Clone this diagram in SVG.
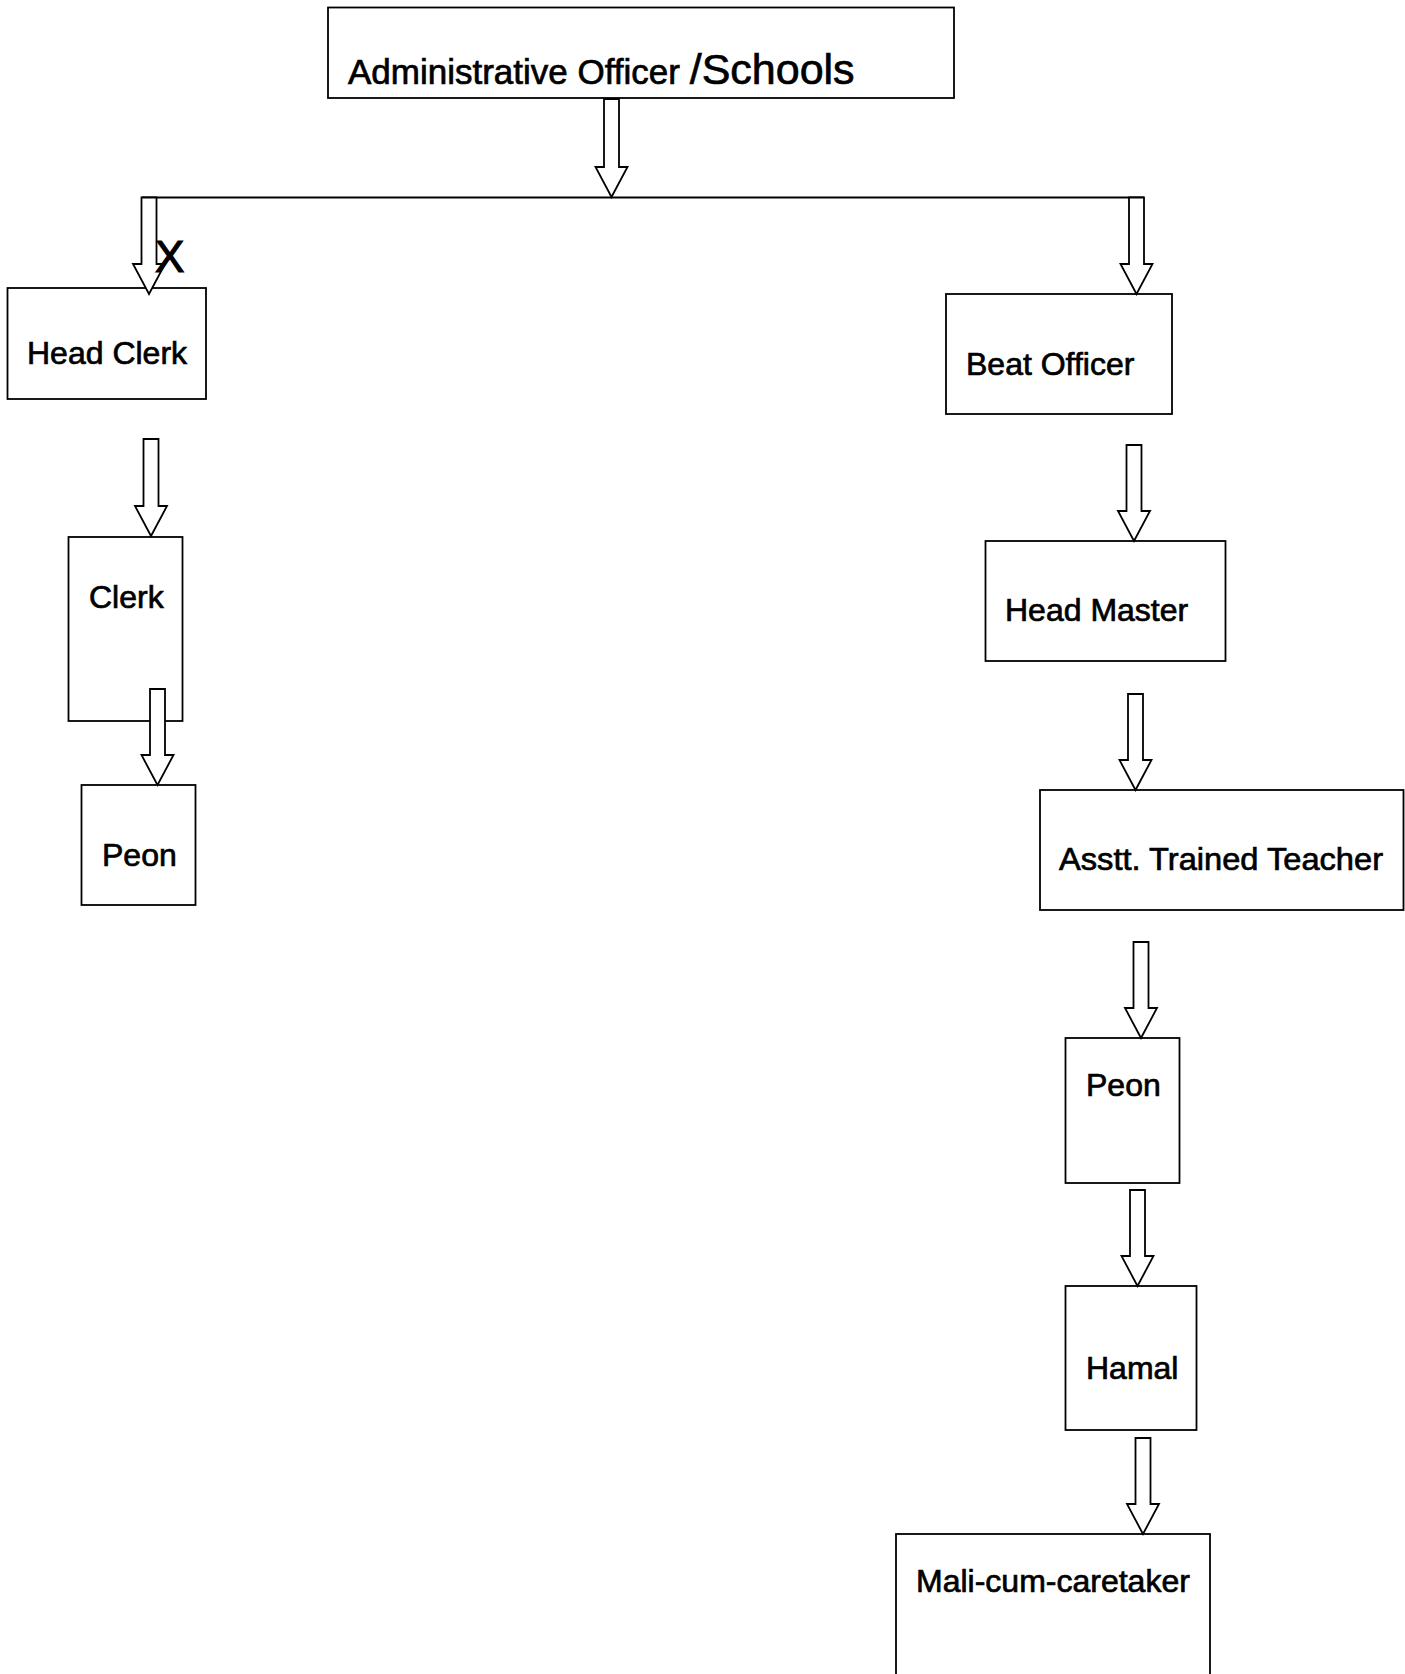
<svg xmlns="http://www.w3.org/2000/svg" width="1405" height="1674" viewBox="0 0 1405 1674">
<style>
.box{fill:#fff;stroke:#000;stroke-width:1.8}
.lbl{font-family:"Liberation Sans",Arial,sans-serif;font-size:32px;fill:#000;stroke:#000;stroke-width:0.7}
.arr{fill:#fff;stroke:#000;stroke-width:1.8;stroke-linejoin:miter}
.ln{stroke:#000;stroke-width:1.8;fill:none}
</style>
<rect width="1405" height="1674" fill="#fff"/>
<g id="nodes">
<g id="n-admin"><rect class="box" x="328" y="7.5" width="626" height="90.5"/><text class="lbl" x="348" y="84" style="font-size:35px">Administrative Officer <tspan style="font-size:43px">/Schools</tspan></text></g>
<g id="n-headclerk"><rect class="box" x="7.5" y="288" width="198.5" height="111"/><text class="lbl" x="27" y="364">Head Clerk</text></g>
<g id="n-clerk"><rect class="box" x="68.5" y="537" width="114" height="184"/><text class="lbl" x="89" y="608">Clerk</text></g>
<g id="n-peon-l"><rect class="box" x="81.5" y="785" width="114" height="120"/><text class="lbl" x="102" y="866">Peon</text></g>
<g id="n-beat"><rect class="box" x="946" y="294" width="226" height="120"/><text class="lbl" x="966" y="375">Beat Officer</text></g>
<g id="n-hm"><rect class="box" x="985.5" y="541" width="240" height="120"/><text class="lbl" x="1005" y="621">Head Master</text></g>
<g id="n-att"><rect class="box" x="1040" y="790" width="363.5" height="120"/><text class="lbl" x="1059" y="870" textLength="324" lengthAdjust="spacingAndGlyphs">Asstt. Trained Teacher</text></g>
<g id="n-peon-r"><rect class="box" x="1065.5" y="1038" width="114" height="145"/><text class="lbl" x="1086" y="1096">Peon</text></g>
<g id="n-hamal"><rect class="box" x="1065.5" y="1286" width="131" height="144"/><text class="lbl" x="1086" y="1379">Hamal</text></g>
<g id="n-mali"><rect class="box" x="896" y="1534" width="314" height="160"/><text class="lbl" x="916" y="1592">Mali-cum-caretaker</text></g>
</g>
<g id="connectors">
<path class="ln" d="M142 197.5 H1144"/>
<path class="arr" d="M604 99 H619 V167 H627.5 L611.5 197 L595.5 167 H604 Z"/>
<path class="arr" d="M141.5 197.5 H156.5 V264 H165 L149 294 L133 264 H141.5 Z"/>
<path class="arr" d="M1129 197.5 H1144 V264 H1152.5 L1136.5 294 L1120.5 264 H1129 Z"/>
<path class="arr" d="M143.5 439 H158.5 V506 H167 L151 536 L135 506 H143.5 Z"/>
<path class="arr" d="M150 689 H165 V755 H173.5 L157.5 785 L141.5 755 H150 Z"/>
<path class="arr" d="M1126.5 445 H1141.5 V511 H1150 L1134 541 L1118 511 H1126.5 Z"/>
<path class="arr" d="M1128 694 H1143 V760 H1151.5 L1135.5 790 L1119.5 760 H1128 Z"/>
<path class="arr" d="M1133.5 942 H1148.5 V1008 H1157 L1141 1038 L1125 1008 H1133.5 Z"/>
<path class="arr" d="M1130 1190 H1145 V1256 H1153.5 L1137.5 1286 L1121.5 1256 H1130 Z"/>
<path class="arr" d="M1135.5 1438 H1150.5 V1504 H1159 L1143 1534 L1127 1504 H1135.5 Z"/>
<text class="lbl" x="155" y="272" style="font-size:44px;stroke-width:1.2">X</text>
</g>
</svg>
